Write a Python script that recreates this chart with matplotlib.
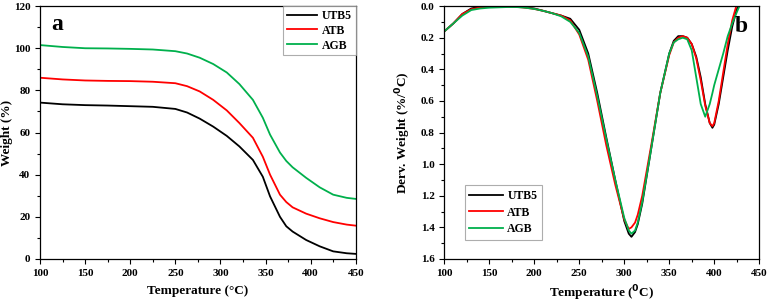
import matplotlib
matplotlib.use('Agg')
import matplotlib.pyplot as plt
from matplotlib.ticker import MultipleLocator

plt.rcParams['font.family'] = ['Liberation Serif', 'DejaVu Serif']
plt.rcParams['font.weight'] = 'bold'

# --- TGA data (a) ---
tga_t = [100, 125, 150, 175, 200, 225, 250, 263, 277, 292, 307, 321, 336, 347,
         355, 366, 373, 380, 395, 410, 425, 440, 450]
tga_utb5 = [74.2, 73.4, 73.0, 72.8, 72.5, 72.2, 71.2, 69.5, 66.6, 62.8, 58.4, 53.4,
            47.0, 39.0, 29.7, 20.0, 15.5, 13.0, 9.0, 6.0, 3.6, 2.7, 2.4]
tga_atb = [86.0, 85.2, 84.7, 84.5, 84.4, 84.1, 83.4, 82.0, 79.5, 75.5, 70.5, 64.5,
           57.5, 48.5, 40.0, 30.5, 27.0, 24.5, 21.5, 19.3, 17.5, 16.3, 15.8]
tga_agb = [101.5, 100.6, 100.0, 99.9, 99.7, 99.4, 98.6, 97.5, 95.5, 92.5, 88.5, 83.0,
           75.5, 67.0, 59.0, 50.5, 46.5, 43.5, 38.5, 34.0, 30.5, 29.0, 28.5]

# --- DTG data (b) ---
dtg_t = [100, 110, 120, 130, 140, 150, 160, 170, 180, 190, 200, 210, 220, 230, 240,
         250, 260, 270, 280, 290, 300, 305, 308, 312, 315, 320, 330, 340, 350, 355,
         360, 365, 370, 375, 380, 385, 390, 395, 398, 400, 405, 410, 415, 420, 425, 428]
dtg_utb5 = [0.16, 0.11, 0.05, 0.015, 0.003, 0.0, 0.0, 0.0, 0.002, 0.008, 0.015, 0.03,
            0.045, 0.06, 0.08, 0.15, 0.3, 0.55, 0.83, 1.1, 1.36, 1.44, 1.46, 1.43, 1.38,
            1.25, 0.9, 0.55, 0.3, 0.22, 0.19, 0.19, 0.2, 0.24, 0.32, 0.45, 0.62, 0.74,
            0.77, 0.75, 0.62, 0.45, 0.28, 0.13, 0.02, -0.01]
dtg_atb = [0.16, 0.11, 0.05, 0.02, 0.008, 0.004, 0.003, 0.003, 0.005, 0.01, 0.018, 0.03,
           0.045, 0.06, 0.09, 0.18, 0.34, 0.6, 0.88, 1.13, 1.35, 1.41, 1.4, 1.37, 1.32,
           1.2, 0.88, 0.55, 0.31, 0.23, 0.2, 0.19, 0.2, 0.24, 0.33, 0.47, 0.63, 0.74,
           0.76, 0.74, 0.6, 0.42, 0.24, 0.09, -0.01, -0.02]
dtg_agb = [0.16, 0.11, 0.06, 0.025, 0.015, 0.01, 0.008, 0.006, 0.006, 0.01, 0.018, 0.03,
           0.045, 0.065, 0.1, 0.17, 0.32, 0.57, 0.84, 1.1, 1.34, 1.42, 1.44, 1.42, 1.37,
           1.24, 0.9, 0.55, 0.3, 0.23, 0.21, 0.2, 0.21, 0.28, 0.45, 0.62, 0.70, 0.62,
           0.55, 0.5, 0.4, 0.3, 0.19, 0.11, 0.04, 0.0]

names = ['UTB5', 'ATB', 'AGB']
colors = ['black', '#ff0000', '#00b04c']

fig = plt.figure(figsize=(7.7, 3.05), dpi=100)
ax1 = fig.add_axes([0.052, 0.151, 0.41, 0.829])
ax2 = fig.add_axes([0.577, 0.151, 0.409, 0.829])

for y, c, n in zip([tga_utb5, tga_atb, tga_agb], colors, names):
    ax1.plot(tga_t, y, color=c, lw=1.3, label=n)
for y, c, n in zip([dtg_utb5, dtg_atb, dtg_agb], colors, names):
    ax2.plot(dtg_t, y, color=c, lw=1.3, label=n)

ax1.set_xlim(100, 450)
ax1.set_ylim(0, 120)
ax1.xaxis.set_major_locator(MultipleLocator(50))
ax1.xaxis.set_minor_locator(MultipleLocator(25))
ax1.yaxis.set_major_locator(MultipleLocator(20))
ax1.yaxis.set_minor_locator(MultipleLocator(10))
ax1.set_xlabel('Temperature (°C)', fontsize=9.5, fontweight='bold')
ax1.set_ylabel('Weight (%)', fontsize=9.5, fontweight='bold')
ax1.xaxis.set_label_coords(0.5, -0.105)
ax1.yaxis.set_label_coords(-0.085, 0.5)
ax1.text(0.035, 0.97, 'a', transform=ax1.transAxes, fontsize=17, fontweight='bold',
         va='top', ha='left')
leg1 = ax1.legend(loc='upper right', fontsize=8.5, frameon=True, fancybox=False,
                  borderpad=0.3, handlelength=2.6, labelspacing=0.25,
                  borderaxespad=0.0, handletextpad=0.4)
leg1.get_frame().set_edgecolor('#999999')
leg1.get_frame().set_linewidth(0.8)

ax2.set_xlim(100, 450)
ax2.set_ylim(1.6, 0.0)
ax2.xaxis.set_major_locator(MultipleLocator(50))
ax2.xaxis.set_minor_locator(MultipleLocator(25))
ax2.yaxis.set_major_locator(MultipleLocator(0.2))
ax2.yaxis.set_minor_locator(MultipleLocator(0.1))
ax2.yaxis.set_major_formatter(matplotlib.ticker.FormatStrFormatter('%.1f'))
ax2.set_xlabel('Temperature ($\\mathbf{^0}$C)', fontsize=9.5, fontweight='bold')
ax2.set_ylabel('Derv. Weight (%/$\\mathbf{^0}$C)', fontsize=9.5, fontweight='bold')
ax2.xaxis.set_label_coords(0.5, -0.098)
ax2.yaxis.set_label_coords(-0.1, 0.5)
ax2.text(0.965, 0.96, 'b', transform=ax2.transAxes, fontsize=17, fontweight='bold',
         va='top', ha='right')
leg2 = ax2.legend(loc='lower left', bbox_to_anchor=(0.065, 0.075), fontsize=8.5,
                  frameon=True, fancybox=False, borderpad=0.4, handlelength=2.8,
                  labelspacing=0.4, handletextpad=0.4, borderaxespad=0.0)
leg2.get_frame().set_edgecolor('#999999')
leg2.get_frame().set_linewidth(0.8)

for ax in (ax1, ax2):
    ax.tick_params(which='both', direction='out', top=False, right=False,
                   labelsize=8)
    ax.tick_params(which='major', length=3.5, width=0.8)
    ax.tick_params(which='minor', length=2, width=0.8)
    for lab in ax.get_xticklabels() + ax.get_yticklabels():
        lab.set_fontweight('bold')
    for s in ax.spines.values():
        s.set_linewidth(0.9)

fig.savefig('out.png', dpi=100)
